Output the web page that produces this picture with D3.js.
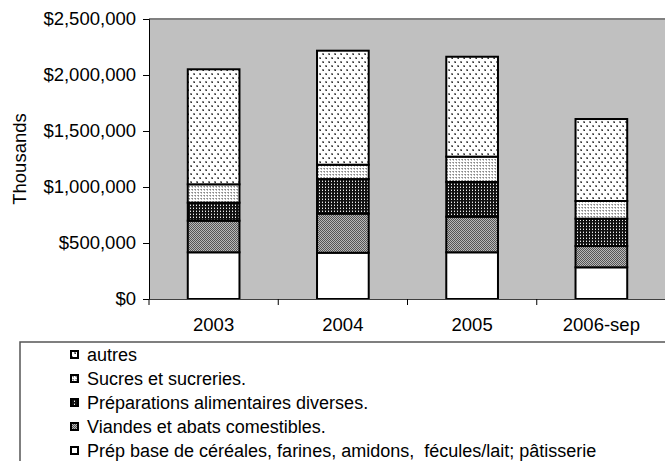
<!DOCTYPE html>
<html>
<head>
<meta charset="utf-8">
<title>Stacked bars</title>
<script src="https://cdn.jsdelivr.net/npm/d3@7"></script>
<style>
    body { margin: 0; background: #fff; }
    svg text { font-family: "Liberation Sans", Arial, sans-serif; fill: #000; }
</style>
</head>
<body>
<svg id="chart" width="665" height="461"></svg>
<script>
    // categories and stacked series (values in thousands of $)
    const years = ["2003", "2004", "2005", "2006-sep"];
    const seriesNames = [
        "Prép base de céréales, farines, amidons,  fécules/lait; pâtisserie",
        "Viandes et abats comestibles.",
        "Préparations alimentaires diverses.",
        "Sucres et sucreries.",
        "autres"
    ];
    const prepBase   = [417000, 413000, 417000, 283000];
    const viandes    = [282000, 349000, 318000, 190000];
    const preparations = [161000, 309000, 310000, 244000];
    const sucres     = [164000, 128000, 226000, 158000];
    const autres     = [1027000, 1018000, 892000, 732000];
    const yTicks = [0, 500000, 1000000, 1500000, 2000000, 2500000];

    const allSeries = [prepBase, viandes, preparations, sucres, autres];
    const patIds = ["pWhite", "pViandes", "pPrep", "pSucres", "pAutres"];

    const table = years.map((yr, i) => {
        const row = { year: yr };
        seriesNames.forEach((s, k) => row[s] = allSeries[k][i]);
        return row;
    });
    const stacked = d3.stack().keys(seriesNames)(table);

    const svg = d3.select("#chart");
    const defs = svg.append("defs");

    // fill patterns, roughly like the old excel hatches
    function pattern(id, w, h, bg, dots) {
        const p = defs.append("pattern").attr("id", id)
            .attr("patternUnits", "userSpaceOnUse")
            .attr("width", w).attr("height", h);
        p.append("rect").attr("width", w).attr("height", h).attr("fill", bg);
        dots.forEach(d => p.append("rect")
            .attr("x", d[0]).attr("y", d[1]).attr("width", d[2]).attr("height", d[3]).attr("fill", d[4]));
    }
    pattern("pWhite", 4, 4, "#fff", []);
    pattern("pViandes", 2, 2, "#b8b8b8", [[0, 0, 1, 1, "#555"], [1, 1, 1, 1, "#555"]]);
    pattern("pPrep", 3, 3, "#111", [[1, 1, 1, 1, "#eee"], [1, 0, 1, 1, "#666"]]);
    pattern("pSucres", 3, 3, "#fff", [[0, 0, 1, 1, "#888"], [0, 1, 1, 1, "#bbb"], [2, 0, 1, 1, "#aaa"]]);
    pattern("pAutres", 6, 8, "#fff", [[1, 1, 2, 2, "#888"], [2, 2, 1, 1, "#333"], [4, 5, 2, 2, "#888"], [5, 6, 1, 1, "#333"]]);

    const plotL = 149, plotR = 666, plotT = 19, plotB = 299;

    const x = d3.scaleBand().domain(years).range([plotL, plotR])
        .paddingInner(0.6).paddingOuter(0.3);
    const y = d3.scaleLinear().domain([0, 2500000]).range([plotB, plotT]);

    // plot area
    svg.append("rect")
        .attr("x", plotL).attr("y", plotT)
        .attr("width", plotR - plotL).attr("height", plotB - plotT)
        .attr("fill", "#c0c0c0");
    svg.append("line")
        .attr("x1", plotL).attr("x2", plotR).attr("y1", plotT).attr("y2", plotT)
        .attr("stroke", "#808080").attr("stroke-width", 2);

    // bars
    svg.append("g").selectAll("g")
        .data(stacked)
        .join("g")
        .attr("fill", (d, i) => "url(#" + patIds[i] + ")")
        .selectAll("rect")
        .data(d => d)
        .join("rect")
        .attr("x", d => x(d.data.year))
        .attr("y", d => y(d[1]))
        .attr("width", x.bandwidth())
        .attr("height", d => y(d[0]) - y(d[1]))
        .attr("stroke", "#000")
        .attr("stroke-width", 2);

    // y axis
    const yAxis = d3.axisLeft(y).tickValues(yTicks)
        .tickFormat(d => "$" + d3.format(",")(d))
        .tickSize(6).tickPadding(7);
    const gy = svg.append("g").attr("transform", "translate(" + plotL + ",0)").call(yAxis);
    gy.select(".domain").attr("stroke", "#000");
    gy.selectAll("text").style("font-size", "18.5px");

    // x axis: labels under bars, ticks on band edges
    const xAxis = d3.axisBottom(x).tickSize(0).tickPadding(19);
    const gx = svg.append("g").attr("transform", "translate(0," + plotB + ")").call(xAxis);
    gx.select(".domain").attr("stroke", "#404040");
    gx.selectAll("text").style("font-size", "18.5px");
    const edges = years.map(d => x(d) + x.bandwidth() / 2 - x.step() / 2);
    gx.selectAll(".edge").data(edges).join("line")
        .attr("x1", d => d).attr("x2", d => d)
        .attr("y1", 0).attr("y2", 6)
        .attr("stroke", "#000");

    // axis title
    svg.append("text")
        .attr("transform", "translate(26," + ((plotT + plotB) / 2) + ") rotate(-90)")
        .attr("text-anchor", "middle")
        .style("font-size", "18.5px")
        .text("Thousands");

    // legend box (runs off the page like in the original)
    svg.append("rect")
        .attr("x", 20).attr("y", 342).attr("width", 700).attr("height", 200)
        .attr("fill", "#fff").attr("stroke", "#555").attr("stroke-width", 1.5);

    const legendOrder = [4, 3, 2, 1, 0];
    const lg = svg.append("g").selectAll("g")
        .data(legendOrder)
        .join("g")
        .attr("transform", (d, i) => "translate(70," + (355 + i * 24) + ")");
    lg.append("rect")
        .attr("x", 1).attr("y", -4).attr("width", 7).attr("height", 7)
        .attr("fill", d => "url(#" + patIds[d] + ")")
        .attr("stroke", "#000").attr("stroke-width", 2);
    lg.append("text")
        .attr("x", 17).attr("dy", "0.35em")
        .style("font-size", "18px")
        .style("white-space", "pre")
        .text(d => seriesNames[d]);
</script>
</body>
</html>
